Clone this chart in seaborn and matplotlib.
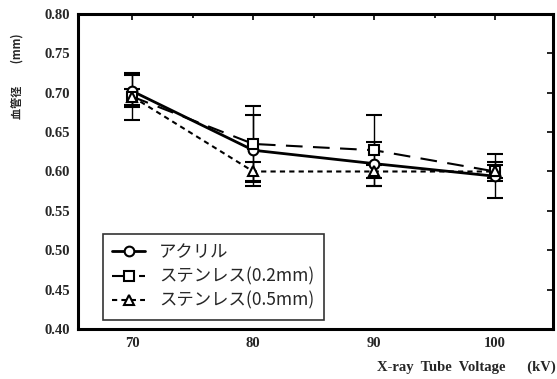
import matplotlib
matplotlib.use("Agg")
import matplotlib.pyplot as plt
import seaborn as sns
import pandas as pd
import numpy as np

voltage = [70, 80, 90, 100]
series_names = ["アクリル", "ステンレス(0.2mm)", "ステンレス(0.5mm)"]
acrylic = [0.702, 0.627, 0.610, 0.594]
acrylic_err = [0.020, 0.045, 0.028, 0.028]
sus02 = [0.695, 0.635, 0.627, 0.600]
sus02_err = [0.030, 0.048, 0.045, 0.012]
sus05 = [0.695, 0.600, 0.600, 0.600]
sus05_err = [0.010, 0.012, 0.008, 0.008]

y_ticks = [0.40, 0.45, 0.50, 0.55, 0.60, 0.65, 0.70, 0.75, 0.80]
x_ticks = [70, 80, 90, 100]

sns.set_theme(style="white")
plt.rcParams['font.family'] = ['Liberation Serif', 'Noto Sans CJK JP', 'DejaVu Sans']

fig = plt.figure(figsize=(5.57, 3.79), dpi=100)
ax = fig.add_axes([0.140, 0.132, 0.853, 0.831])

styles = [
    dict(marker="o", ls="-", lw=2.0, dashes=None),
    dict(marker="s", ls="--", lw=1.5, dashes=(8, 5)),
    dict(marker="^", ls="--", lw=1.5, dashes=(2.5, 2)),
]
values = [acrylic, sus02, sus05]
errs = [acrylic_err, sus02_err, sus05_err]

for name, vals, er, st in zip(series_names, values, errs, styles):
    df = pd.DataFrame({"kV": voltage, "d": vals})
    kw = dict(x="kV", y="d", data=df, ax=ax, color="black", linewidth=st["lw"],
              marker=st["marker"], markersize=7, markerfacecolor="white",
              markeredgecolor="black", markeredgewidth=1.5, label=name, zorder=3)
    line = sns.lineplot(**kw).lines[-1]
    if st["dashes"] is not None:
        line.set_dashes(st["dashes"])
    ax.errorbar(voltage, vals, yerr=er, fmt="none", ecolor="black",
                elinewidth=1.0, capsize=6, capthick=1.5, zorder=2)

ax.set_xlim(65.5, 104.8)
ax.set_ylim(0.40, 0.80)
ax.set_xticks(x_ticks)
ax.set_xticks([75, 85, 95], minor=True)
ax.set_yticks(y_ticks)
ax.set_yticklabels([f"{v:.2f}" for v in y_ticks], fontsize=10.5, fontweight="bold",
                   family=['Liberation Serif'])
ax.set_xticklabels([str(v) for v in x_ticks], fontsize=10.5, fontweight="bold",
                   family=['Liberation Serif'])
ax.tick_params(axis="both", which="both", direction="in", top=True, right=True,
               length=4, width=1.2, color="black", pad=6)
ax.tick_params(axis="both", which="minor", length=3)
for sp in ax.spines.values():
    sp.set_linewidth(2.2)
    sp.set_color("black")

ax.set_xlabel("")
ax.set_ylabel("")
fig.text(0.030, 0.80, "血管径　　(mm)", rotation=90, fontsize=8, ha="center", va="center",
         family=['Noto Sans CJK JP', 'DejaVu Sans'], fontweight="bold")
fig.text(0.998, 0.030, "X-ray  Tube  Voltage      (kV)", fontsize=10.5, fontweight="bold",
         ha="right", va="center", family=['Liberation Serif'])

leg = ax.legend(loc="lower left", bbox_to_anchor=(0.052, 0.03), borderaxespad=0,
                frameon=True, fancybox=False, edgecolor="black", handlelength=1.9,
                borderpad=0.55, labelspacing=0.35, handletextpad=0.8,
                prop={'family': ['Noto Sans CJK JP', 'DejaVu Sans'], 'size': 12.5})
leg.get_frame().set_linewidth(1.2)

fig.savefig("out.png", dpi=100)
